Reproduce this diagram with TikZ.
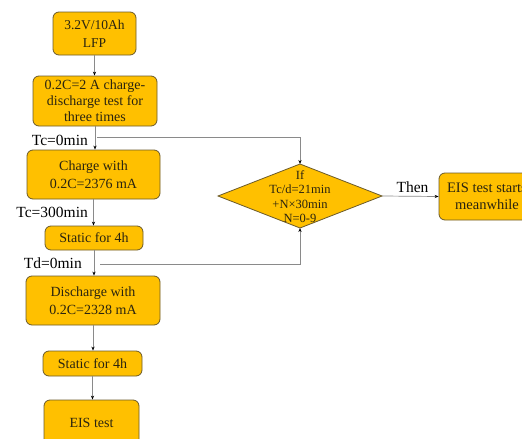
\documentclass[tikz,border=0pt]{standalone}
\usepackage{fontspec}
\setmainfont{Liberation Serif}
\usetikzlibrary{arrows.meta}
\definecolor{boxfill}{HTML}{FFC000}
\definecolor{boxline}{HTML}{6B5A2A}
\definecolor{txt}{HTML}{2A2410}
\definecolor{conn}{HTML}{8A8A8A}
\begin{document}
\begin{tikzpicture}[x=1pt,y=-1pt,
  fbox/.style={draw=boxline,fill=boxfill,rounded corners=6pt,line width=0.8pt,
    align=center,inner sep=0pt,text=txt,font=\fontsize{14}{18}\selectfont},
  lbl/.style={inner sep=0pt,font=\fontsize{15.5}{18}\selectfont,text=black},
  conn/.style={draw=conn,line width=0.7pt,-{Stealth[length=4pt,width=3.2pt,black]}},
  plain/.style={draw=conn,line width=0.7pt}]
\useasboundingbox (0,0) rectangle (522,439);
\clip (0,0) rectangle (522,439);
\node[fbox,minimum width=83pt,minimum height=43pt,font=\fontsize{13.5}{18}\selectfont] (b1) at (94.5,33.5) {3.2V/10Ah\\LFP};
\node[fbox,minimum width=124pt,minimum height=50pt,font=\fontsize{14}{16}\selectfont] (b2) at (95,101) {0.2C=2 A charge-\\discharge test for\\three times};
\node[fbox,minimum width=133pt,minimum height=49pt] (b3) at (93.5,174.5) {Charge with\\0.2C=2376 mA};
\node[fbox,minimum width=98pt,minimum height=24pt] (b4) at (94,238) {Static for 4h};
\node[fbox,minimum width=134pt,minimum height=49pt] (b5) at (93,300.5) {Discharge with\\0.2C=2328 mA};
\node[fbox,minimum width=99pt,minimum height=25pt] (b6) at (92.5,363.5) {Static for 4h};
\node[fbox,minimum width=95pt,minimum height=45pt] (b7) at (91.5,422.5) {EIS test};
\node[fbox,minimum width=96pt,minimum height=47pt,font=\fontsize{14.5}{17}\selectfont] (eis) at (487,196.5) {EIS test starts\\meanwhile};
% diamond
\coordinate (dtop) at (300,164);
\coordinate (dbot) at (300,228);
\coordinate (dleft) at (218,196);
\coordinate (dright) at (382,196);
\draw[draw=boxline,fill=boxfill,line width=0.8pt] (dtop) -- (dright) -- (dbot) -- (dleft) -- cycle;
\node[align=center,inner sep=0pt,text=txt,font=\fontsize{12.5}{14.5}\selectfont] (dtext) at (300,196.5) {If\\Tc/d=21min\\+N×30min\\N=0-9};
% labels
\node[lbl,anchor=east] (l1) at (88,140) {Tc=0min};
\node[lbl,anchor=east] (l2) at (88,212) {Tc=300min};
\node[lbl,anchor=east] (l3) at (82,263) {Td=0min};
\node[lbl] (l4) at (412.5,187) {Then};
\coordinate (c1) at (97,137);
\coordinate (c2) at (100,264);
% connectors
\draw[conn] (b1.south) -- (b1.south |- b2.north);
\draw[conn] (b2.south) -- (b2.south |- b3.north);
\draw[conn] (b3.south) -- (b3.south |- b4.north);
\draw[conn] (b4.south) -- (b4.south |- b5.north);
\draw[conn] (b5.south) -- (b5.south |- b6.north);
\draw[conn] (b6.south) -- (b6.south |- b7.north);
\draw[conn] (c1) -| (dtop);
\draw[conn] (c2) -| (dbot);
\draw[conn] (dright) -- (eis.west);
\end{tikzpicture}
\end{document}
